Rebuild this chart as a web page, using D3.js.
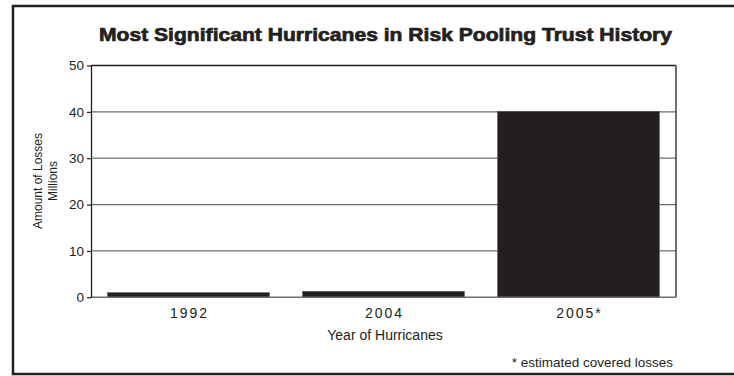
<!DOCTYPE html>
<html><head><meta charset="utf-8">
<script src="https://cdn.jsdelivr.net/npm/d3@7"></script>
<style>body{margin:0;background:#fff}svg{display:block}text{font-family:"Liberation Sans",Arial,sans-serif;fill:#231f20}</style>
</head><body><svg id="c" width="734" height="376"></svg>
<script>
const categories = ["1992", "2004", "2005*"];
const losses = [1.0, 1.3, 40.1];
const yTicks = [0, 10, 20, 30, 40, 50];
const title = "Most Significant Hurricanes in Risk Pooling Trust History";

const svg = d3.select("#c");
const m = {left: 91, right: 676, top: 65.5, bottom: 297.3};
const x = d3.scaleBand().domain(categories).range([m.left, m.right]).paddingInner(0.17).paddingOuter(0.085);
const y = d3.scaleLinear().domain([0, 50]).range([m.bottom, m.top]);

// frame
svg.append("rect").attr("x", 13).attr("y", 6).attr("width", 730).attr("height", 368)
  .attr("fill", "none").attr("stroke", "#231f20").attr("stroke-width", 2.5);

svg.append("text").attr("x", 385.5).attr("y", 41).attr("text-anchor", "middle")
  .style("font-size", "18.5px").style("font-weight", "900")
  .attr("stroke", "#231f20").attr("stroke-width", 0.7)
  .attr("textLength", 573).attr("lengthAdjust", "spacingAndGlyphs")
  .text(title);

// gridlines
svg.append("g").selectAll("line").data(yTicks.filter(d => d > 0 && d < 50)).join("line")
  .attr("x1", m.left).attr("x2", m.right).attr("y1", d => y(d)).attr("y2", d => y(d))
  .attr("stroke", "#6d6e70").attr("stroke-width", 1.2);

// bars
svg.append("g").selectAll("rect").data(losses).join("rect")
  .attr("x", (d, i) => x(categories[i])).attr("width", x.bandwidth())
  .attr("y", d => y(d)).attr("height", d => y(0) - y(d))
  .attr("fill", "#231f20").attr("stroke", "#58595b").attr("stroke-width", 0.6);

// plot borders
svg.append("line").attr("x1", m.left).attr("x2", m.right).attr("y1", y(50)).attr("y2", y(50)).attr("stroke", "#231f20").attr("stroke-width", 1.3);
svg.append("line").attr("x1", m.right).attr("x2", m.right).attr("y1", y(50)).attr("y2", y(0)).attr("stroke", "#231f20").attr("stroke-width", 1.3);
svg.append("line").attr("x1", m.left).attr("x2", m.right).attr("y1", y(0)).attr("y2", y(0)).attr("stroke", "#6d6e70").attr("stroke-width", 1.5);

// y axis
const ya = svg.append("g").attr("transform", `translate(${m.left},0)`)
  .call(d3.axisLeft(y).tickValues(yTicks).tickSize(4).tickPadding(3).tickSizeOuter(0));
ya.select(".domain").attr("stroke", "#231f20").attr("stroke-width", 1.3);
ya.selectAll(".tick line").attr("stroke", "#231f20").attr("stroke-width", 1.2);
ya.selectAll(".tick text").style("font-size", "13.5px").style("font-family", "Liberation Sans, Arial, sans-serif").attr("fill", "#231f20");

// x axis labels
const xa = svg.append("g").attr("transform", `translate(0,${y(0)})`)
  .call(d3.axisBottom(x).tickSize(0).tickPadding(11));
xa.select(".domain").remove();
xa.selectAll(".tick text").style("font-size", "14px").style("letter-spacing", "2px").attr("dx", "1px")
  .style("font-family", "Liberation Sans, Arial, sans-serif").attr("fill", "#231f20");

svg.append("text").attr("x", 385).attr("y", 340).attr("text-anchor", "middle").style("font-size", "14px").text("Year of Hurricanes");

const yl = svg.append("text").attr("transform", `translate(0,181) rotate(-90)`).attr("text-anchor", "middle").style("font-size", "12px");
yl.append("tspan").attr("x", 0).attr("y", 41.5).text("Amount of Losses");
yl.append("tspan").attr("x", 0).attr("y", 56.5).text("Millions");

svg.append("text").attr("x", 673).attr("y", 367).attr("text-anchor", "end").style("font-size", "13.5px").text("* estimated covered losses");
</script></body></html>
